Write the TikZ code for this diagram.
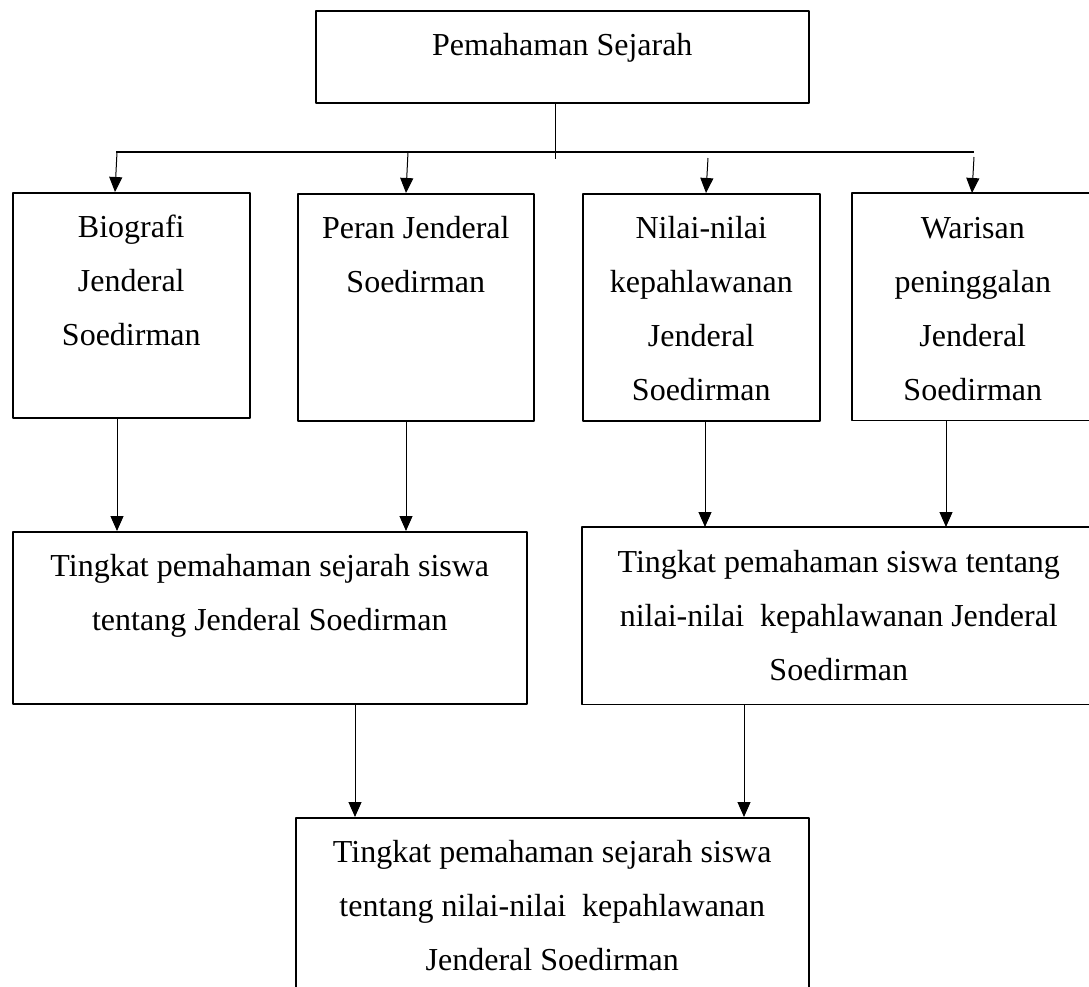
\documentclass[tikz,border=0pt]{standalone}
\usepackage{fontspec}
\setmainfont{Liberation Serif}
\usetikzlibrary{arrows.meta}
\newlength\px
\setlength\px{0.5pt}
% box contents: width, height (in px), text set from the top
\newcommand{\boxtext}[3]{\parbox[c][#2\px][t]{#1\px}{\centering\vspace*{3.5pt}\strut #3}}

\begin{document}
\begin{tikzpicture}[x=0.5pt, y=-0.5pt, font=\fontsize{16}{27}\selectfont, line join=round, >={Triangle[length=7.5pt,width=6.5pt]},
	box/.style={draw, line width=0.8pt, inner sep=0pt, anchor=north west},
	cut/.style={box, draw=none},
	arr/.style={->, line width=0.5pt}]
		\useasboundingbox (0,0) rectangle (1089,987);
		\clip (0,0) rectangle (1089,987);
		% boxes
		\node[box] (top) at (315,10) {\boxtext{493}{92}{\vspace*{-2pt}Pemahaman Sejarah}};
		\node[box] (b1) at (12,192) {\boxtext{237}{225}{Biografi\\ Jenderal\\ Soedirman}};
		\node[box] (b2) at (297,193) {\boxtext{236}{227}{Peran Jenderal\\ Soedirman}};
		\node[box] (b3) at (582,193) {\boxtext{237}{227}{Nilai-nilai\\ kepahlawanan\\ Jenderal\\ Soedirman}};
		\node[cut] (b4) at (852,193) {\boxtext{240}{226}{Warisan\\ peninggalan\\ Jenderal\\ Soedirman}};
		\node[box] (b5) at (12,531) {\boxtext{514}{172}{Tingkat pemahaman sejarah siswa\\ tentang Jenderal Soedirman}};
		\node[cut] (b6) at (582,527) {\boxtext{512}{176}{Tingkat pemahaman siswa tentang\\ nilai-nilai~ kepahlawanan Jenderal\\ Soedirman}};
		\node[box] (b7) at (295,817) {\boxtext{513}{200}{Tingkat pemahaman sejarah siswa\\ tentang nilai-nilai~ kepahlawanan\\ Jenderal Soedirman}};
		% boxes running off the right edge
		\draw[line width=0.8pt] (b4.north east) -- (b4.north west) -- (b4.south west) -- (b4.south east);
		\draw[line width=0.8pt] (b6.north east) -- (b6.north west) -- (b6.south west) -- (b6.south east);
		% bar and branch points
		\coordinate (s) at (555,159);
		\coordinate (bl) at (116,152);
		\coordinate (br) at (974,152);
		\coordinate (t1) at (117,152);
		\coordinate (t2) at (408,152);
		\coordinate (t3) at (708,158);
		\coordinate (t4) at (974,157);
		\coordinate (m4) at (946,0);
		\coordinate (m5) at (355,0);
		\coordinate (m6) at (744,0);
		\draw[line width=0.5pt] (top.south -| s) -- (s);
		\draw[line width=1.1pt] (bl) -- (br);
		\draw[arr] (t1) -- ([xshift=-1pt]t1 |- b1.north);
		\draw[arr] (t2) -- ([xshift=-1pt]t2 |- b2.north);
		\draw[arr] (t3) -- ([xshift=-1pt]t3 |- b3.north);
		\draw[arr] (t4) -- ([xshift=-1pt]t4 |- b4.north);
		% lower arrows
		\draw[arr] (b1.south -| t1) -- (b5.north -| t1);
		\draw[arr] ([xshift=-1pt]b2.south -| t2) -- ([xshift=-1pt]b5.north -| t2);
		\draw[arr] ([xshift=-1.5pt]b3.south -| t3) -- ([xshift=-1.5pt]b6.north -| t3);
		\draw[arr] (b4.south -| m4) -- (b6.north -| m4);
		\draw[arr] (b5.south -| m5) -- (b7.north -| m5);
		\draw[arr] (b6.south -| m6) -- (b7.north -| m6);
\end{tikzpicture}
\end{document}
